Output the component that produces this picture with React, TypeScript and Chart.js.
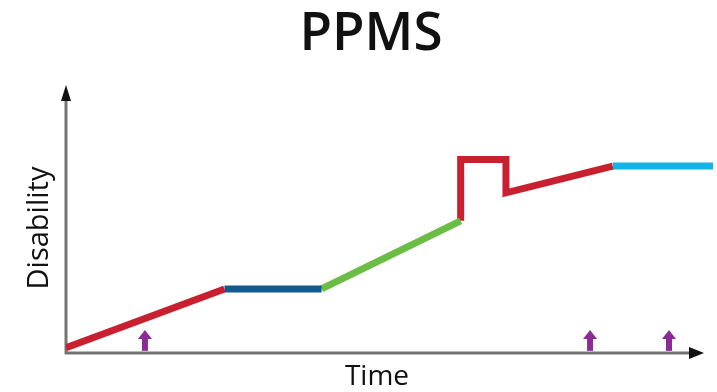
import React, { useEffect, useRef } from "react";
import { Chart, registerables } from "chart.js";

Chart.register(...registerables);

const titleText = "PPMS";
const xLabel = "Time";
const yLabel = "Disability";

// segments of the disability course (x = time, y = disability)
const seg1X = [0, 24.5];
const seg1Y = [2, 24];
const seg2X = [24.5, 39.5];
const seg2Y = [24, 24];
const seg3X = [39.5, 61];
const seg3Y = [24, 49.5];
const seg4X = [61, 61, 68, 68, 84.5];
const seg4Y = [49.5, 72.5, 72.5, 60, 70];
const seg5X = [84.5, 100];
const seg5Y = [70, 70];

const segColors = ["#c8202f", "#0f5a8e", "#6bbd45", "#c8202f", "#14b4e4"];

// purple markers along the time axis
const markerTimes = [12.2, 81, 93.2];
const markerBase = 0.8;
const markerTip = 8.6;

const toPts = (xs: number[], ys: number[]) => xs.map((x, i) => ({ x, y: ys[i] }));

const decorPlugin = {
  id: "decor",
  beforeDatasetsDraw(chart: any) {
    const ctx = chart.ctx;
    const xs = chart.scales.x;
    const ys = chart.scales.y;
    const ox = xs.getPixelForValue(0);
    const oy = ys.getPixelForValue(0);
    ctx.save();
    ctx.strokeStyle = "#747474";
    ctx.lineWidth = 3;
    ctx.beginPath();
    ctx.moveTo(ox, oy + 1);
    ctx.lineTo(ox, 98);
    ctx.moveTo(ox - 1, oy);
    ctx.lineTo(692, oy);
    ctx.stroke();
    ctx.fillStyle = "#111";
    ctx.beginPath();
    ctx.moveTo(ox, 85);
    ctx.lineTo(ox - 5, 101);
    ctx.lineTo(ox + 5, 101);
    ctx.closePath();
    ctx.fill();
    ctx.beginPath();
    ctx.moveTo(704, oy);
    ctx.lineTo(689, oy - 6);
    ctx.lineTo(689, oy + 6);
    ctx.closePath();
    ctx.fill();
    ctx.restore();
  },
  afterDatasetsDraw(chart: any) {
    const ctx = chart.ctx;
    const xs = chart.scales.x;
    const ys = chart.scales.y;
    ctx.save();
    ctx.fillStyle = "#8b2c96";
    ctx.strokeStyle = "#8b2c96";
    markerTimes.forEach((t) => {
      const px = xs.getPixelForValue(t);
      const base = ys.getPixelForValue(markerBase);
      const tip = ys.getPixelForValue(markerTip);
      ctx.lineWidth = 6;
      ctx.beginPath();
      ctx.moveTo(px, base);
      ctx.lineTo(px, tip + 7);
      ctx.stroke();
      ctx.beginPath();
      ctx.moveTo(px, tip);
      ctx.lineTo(px - 7, tip + 9);
      ctx.lineTo(px + 7, tip + 9);
      ctx.closePath();
      ctx.fill();
    });
    ctx.restore();
  },
  afterDraw(chart: any) {
    const ctx = chart.ctx;
    ctx.save();
    ctx.fillStyle = "#111";
    ctx.textAlign = "center";
    ctx.textBaseline = "alphabetic";
    ctx.font = "600 53px 'Open Sans'";
    ctx.fillText(titleText, 371, 50);
    ctx.font = "400 28px 'Open Sans'";
    ctx.fillText(xLabel, 377, 385);
    ctx.translate(48, 228);
    ctx.rotate(-Math.PI / 2);
    ctx.font = "400 29px 'Open Sans'";
    ctx.fillText(yLabel, 0, 0);
    ctx.restore();
  },
};

export default function App() {
  const ref = useRef<HTMLCanvasElement | null>(null);
  useEffect(() => {
    if (!ref.current) return;
    const segs = [
      toPts(seg1X, seg1Y),
      toPts(seg2X, seg2Y),
      toPts(seg3X, seg3Y),
      toPts(seg4X, seg4Y),
      toPts(seg5X, seg5Y),
    ];
    const chart = new Chart(ref.current, {
      type: "line",
      data: {
        datasets: segs.map((d, i) => ({
          data: d,
          borderColor: segColors[i],
          backgroundColor: segColors[i],
          borderWidth: 7,
          pointRadius: 0,
          tension: 0,
          fill: false,
          borderJoinStyle: "miter" as const,
          borderCapStyle: "butt" as const,
        })),
      },
      options: {
        responsive: false,
        animation: false,
        layout: { padding: { left: 66, right: 4, top: 86, bottom: 39 } },
        plugins: { legend: { display: false }, tooltip: { enabled: false }, title: { display: false } },
        scales: {
          x: { type: "linear", min: 0, max: 100, display: false },
          y: { type: "linear", min: 0, max: 100, display: false },
        },
      },
      plugins: [decorPlugin],
    });
    return () => chart.destroy();
  }, []);
  return (
    <div style={{ position: "absolute", left: 0, top: 0, width: 717, height: 392, background: "#fff" }}>
      <canvas ref={ref} width={717} height={392} />
    </div>
  );
}
